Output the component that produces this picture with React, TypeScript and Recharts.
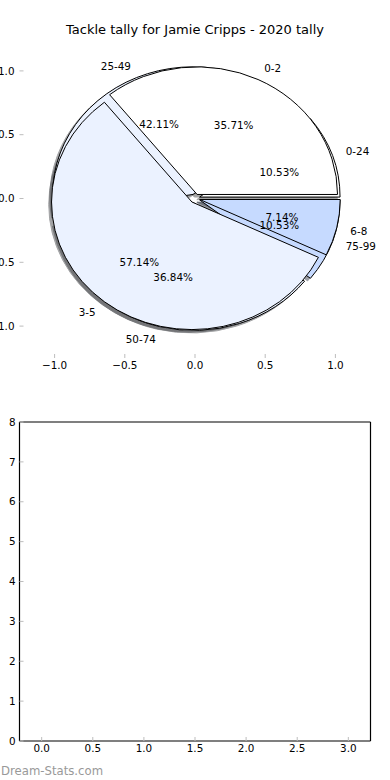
import { PieChart, Pie, ScatterChart, XAxis, YAxis } from "recharts";

// tackles per game bands (top pie, drawn last)
const tackleBands = ["0-2", "3-5", "6-8"];
const tackleCounts = [5, 8, 1];
// minutes bands (second pie, drawn underneath)
const minuteBands = ["0-24", "25-49", "50-74", "75-99"];
const minuteCounts = [2, 8, 7, 2];

const pieTicks = [-1, -0.5, 0, 0.5, 1];
const emptyTicksX = [0, 0.5, 1, 1.5, 2, 2.5, 3];
const emptyTicksY = [0, 1, 2, 3, 4, 5, 6, 7, 8];

const tackleData = tackleBands.map((name, i) => ({ name, value: tackleCounts[i] }));
const minuteData = minuteBands.map((name, i) => ({ name, value: minuteCounts[i] }));
// axis-only rows so the empty cartesian frames get their x scale
const pieFrameRows = pieTicks.map((t) => ({ t }));
const emptyFrameRows = emptyTicksX.map((t) => ({ t }));

const tackleColors = ["#ffffff", "#ebf2ff", "#c6daff"];
const minuteColors = ["#ffffff", "#ebf2ff", "#ebf2ff", "#c6daff"];

const FONT = "'DejaVu Sans', sans-serif";
const TICK_GREY = "#bdbdbd";
const PX = 140.4; // px per data unit, horizontal
const PY = 127.6; // px per data unit, vertical
const KY = PY / PX;
const EXPLODE = 0.035;
const RAD = Math.PI / 180;

const fmt1 = (v: number) => (v < 0 ? "\u2212" : "") + Math.abs(v).toFixed(1);

const shade = (hex: string) => {
  const n = parseInt(hex.slice(1), 16);
  const r = Math.round(((n >> 16) & 255) * 0.3);
  const g = Math.round(((n >> 8) & 255) * 0.3);
  const b = Math.round((n & 255) * 0.3);
  return `rgb(${r},${g},${b})`;
};

const origin = (p: any) => {
  const mid = (p.startAngle + p.endAngle) / 2;
  return {
    mid,
    ox: p.cx + EXPLODE * p.outerRadius * Math.cos(mid * RAD),
    oy: p.cy - EXPLODE * p.outerRadius * KY * Math.sin(mid * RAD),
  };
};

const wedgePath = (p: any) => {
  const { ox, oy } = origin(p);
  const r = p.outerRadius;
  const s = p.startAngle * RAD;
  const e = p.endAngle * RAD;
  const x1 = ox + r * Math.cos(s);
  const y1 = oy - r * KY * Math.sin(s);
  const x2 = ox + r * Math.cos(e);
  const y2 = oy - r * KY * Math.sin(e);
  const large = Math.abs(p.endAngle - p.startAngle) > 180 ? 1 : 0;
  return `M${ox},${oy}L${x1},${y1}A${r},${r * KY} 0 ${large} 0 ${x2},${y2}Z`;
};

const shadowLabel = (colors: string[]) => (p: any) => (
  <path
    d={wedgePath(p)}
    transform={`translate(${-0.02 * PX},${0.02 * PY})`}
    fill={shade(colors[p.index])}
    stroke={shade(colors[p.index])}
    strokeWidth={1}
    opacity={0.5}
  />
);

const wedgeLabel = (colors: string[]) => (p: any) => (
  <path d={wedgePath(p)} fill={colors[p.index]} stroke="#000" strokeWidth={1} />
);

const textLabel = (p: any) => {
  const { mid, ox, oy } = origin(p);
  const r = p.outerRadius;
  const c = Math.cos(mid * RAD);
  const s = Math.sin(mid * RAD);
  return (
    <g fontFamily={FONT} fontSize={10.4} fill="#000">
      <text
        x={ox + 1.1 * r * c}
        y={oy - 1.1 * r * KY * s}
        textAnchor={c > 0 ? "start" : "end"}
        dominantBaseline="central"
      >
        {p.name}
      </text>
      <text
        x={ox + 0.6 * r * c}
        y={oy - 0.6 * r * KY * s}
        textAnchor="middle"
        dominantBaseline="central"
      >
        {(p.percent * 100).toFixed(2)}%
      </text>
    </g>
  );
};

const tickStyle = { fill: "#000", fontSize: 10.4, fontFamily: FONT };
const spine = { stroke: "#000", strokeWidth: 1.2 };

const pieProps = {
  dataKey: "value",
  nameKey: "name",
  cx: 195,
  cy: 198.5,
  outerRadius: PX,
  startAngle: 0,
  endAngle: 360,
  fill: "none",
  stroke: "none",
  labelLine: false,
  isAnimationActive: false,
};

const App = () => {
  return (
    <div
      style={{
        position: "absolute",
        left: 0,
        top: 0,
        width: 390,
        height: 780,
        background: "#fff",
        fontFamily: FONT,
      }}
    >
      <div
        style={{
          position: "absolute",
          left: 19.5,
          width: 351,
          top: 22,
          lineHeight: "16px",
          fontSize: 13,
          textAlign: "center",
          color: "#000",
        }}
      >
        Tackle tally for Jamie Cripps - 2020 tally
      </div>

      <div style={{ position: "absolute", left: 0, top: 0 }}>
        <ScatterChart
          width={390}
          height={400}
          data={pieFrameRows}
          margin={{ top: 0, right: 0, bottom: 0, left: 0 }}
        >
          <XAxis
            xAxisId="b"
            dataKey="t"
            orientation="bottom"
            type="number"
            domain={[-1.25, 1.25]}
            allowDataOverflow
            ticks={pieTicks}
            interval={0}
            height={42}
            tickSize={-4}
            tickMargin={8}
            axisLine={false}
            stroke={TICK_GREY}
            tick={tickStyle}
            tickFormatter={fmt1}
          />
          <XAxis
            xAxisId="t"
            dataKey="t"
            orientation="top"
            type="number"
            domain={[-1.25, 1.25]}
            allowDataOverflow
            ticks={pieTicks}
            interval={0}
            height={39}
            tickSize={-4}
            axisLine={false}
            stroke={TICK_GREY}
            tick={false}
          />
          <YAxis
            yAxisId="l"
            orientation="left"
            type="number"
            domain={[-1.25, 1.25]}
            allowDataOverflow
            ticks={pieTicks}
            interval={0}
            width={19.5}
            tickSize={-4}
            tickMargin={9}
            axisLine={false}
            stroke={TICK_GREY}
            tick={tickStyle}
            tickFormatter={fmt1}
          />
          <YAxis
            yAxisId="r"
            orientation="right"
            type="number"
            domain={[-1.25, 1.25]}
            allowDataOverflow
            ticks={pieTicks}
            interval={0}
            width={19.5}
            tickSize={-4}
            axisLine={false}
            stroke={TICK_GREY}
            tick={false}
          />
        </ScatterChart>
      </div>

      <div style={{ position: "absolute", left: 0, top: 0 }}>
        <PieChart width={390} height={400} margin={{ top: 0, right: 0, bottom: 0, left: 0 }}>
          <Pie {...pieProps} data={minuteData} label={shadowLabel(minuteColors)} />
          <Pie {...pieProps} data={tackleData} label={shadowLabel(tackleColors)} />
          <Pie {...pieProps} data={minuteData} label={wedgeLabel(minuteColors)} />
          <Pie {...pieProps} data={tackleData} label={wedgeLabel(tackleColors)} />
          <Pie {...pieProps} data={minuteData} label={textLabel} />
          <Pie {...pieProps} data={tackleData} label={textLabel} />
        </PieChart>
      </div>

      <div style={{ position: "absolute", left: 0, top: 380 }}>
        <ScatterChart
          width={390}
          height={400}
          data={emptyFrameRows}
          margin={{ top: 0, right: 0, bottom: 0, left: 0 }}
        >
          <XAxis
            xAxisId="b"
            dataKey="t"
            orientation="bottom"
            type="number"
            domain={[-0.217, 3.217]}
            allowDataOverflow
            ticks={emptyTicksX}
            interval={0}
            height={39}
            tickSize={-4}
            tickMargin={8}
            axisLine={spine}
            stroke={TICK_GREY}
            tick={tickStyle}
            tickFormatter={fmt1}
          />
          <XAxis
            xAxisId="t"
            dataKey="t"
            orientation="top"
            type="number"
            domain={[-0.217, 3.217]}
            allowDataOverflow
            ticks={emptyTicksX}
            interval={0}
            height={42}
            tickSize={-4}
            axisLine={spine}
            stroke={TICK_GREY}
            tick={false}
          />
          <YAxis
            yAxisId="l"
            orientation="left"
            type="number"
            domain={[0, 8]}
            allowDataOverflow
            ticks={emptyTicksY}
            interval={0}
            width={19.5}
            tickSize={-4}
            tickMargin={8}
            axisLine={spine}
            stroke={TICK_GREY}
            tick={tickStyle}
          />
          <YAxis
            yAxisId="r"
            orientation="right"
            type="number"
            domain={[0, 8]}
            allowDataOverflow
            ticks={emptyTicksY}
            interval={0}
            width={19.5}
            tickSize={-4}
            axisLine={spine}
            stroke={TICK_GREY}
            tick={false}
          />
        </ScatterChart>
      </div>

      <div
        style={{
          position: "absolute",
          left: 1,
          top: 763,
          lineHeight: "16px",
          fontSize: 11.7,
          color: "#999",
        }}
      >
        Dream-Stats.com
      </div>
    </div>
  );
};

export default App;
